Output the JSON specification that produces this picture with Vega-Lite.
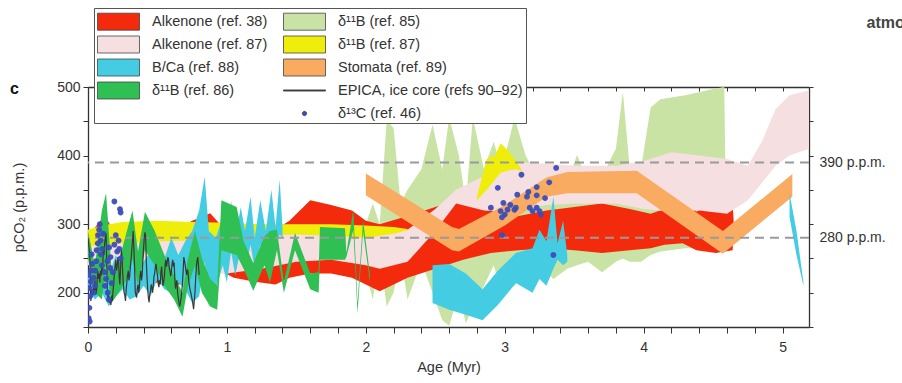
{
"$schema":"https://vega.github.io/schema/vega-lite/v6.json",
"width":721,"height":240,
"autosize":{"type":"none"},
"padding":{"left":88,"top":87,"right":93,"bottom":56},
"background":"white",
"title":{"text":"c","anchor":"start","frame":"group","fontSize":16,"fontWeight":"bold","color":"#111","dx":-78,"dy":102,"offset":0,"baseline":"alphabetic"},
"datasets":{
"bands":[
{"s":"δ¹¹B (ref. 85)","g":1,"x":2.0,"lo":230,"hi":300},{"s":"δ¹¹B (ref. 85)","g":1,"x":2.05,"lo":190,"hi":330},{"s":"δ¹¹B (ref. 85)","g":1,"x":2.1,"lo":255,"hi":300},{"s":"δ¹¹B (ref. 85)","g":1,"x":2.15,"lo":180,"hi":452},{"s":"δ¹¹B (ref. 85)","g":1,"x":2.2,"lo":200,"hi":440},{"s":"δ¹¹B (ref. 85)","g":1,"x":2.25,"lo":255,"hi":330},{"s":"δ¹¹B (ref. 85)","g":1,"x":2.3,"lo":190,"hi":350},{"s":"δ¹¹B (ref. 85)","g":1,"x":2.4,"lo":245,"hi":380},{"s":"δ¹¹B (ref. 85)","g":1,"x":2.48,"lo":200,"hi":445},{"s":"δ¹¹B (ref. 85)","g":1,"x":2.55,"lo":160,"hi":380},{"s":"δ¹¹B (ref. 85)","g":1,"x":2.6,"lo":152,"hi":455},{"s":"δ¹¹B (ref. 85)","g":1,"x":2.67,"lo":200,"hi":400},{"s":"δ¹¹B (ref. 85)","g":1,"x":2.72,"lo":155,"hi":330},{"s":"δ¹¹B (ref. 85)","g":1,"x":2.77,"lo":180,"hi":455},{"s":"δ¹¹B (ref. 85)","g":1,"x":2.85,"lo":210,"hi":380},{"s":"δ¹¹B (ref. 85)","g":1,"x":2.92,"lo":240,"hi":420},{"s":"δ¹¹B (ref. 85)","g":1,"x":2.98,"lo":200,"hi":380},{"s":"δ¹¹B (ref. 85)","g":1,"x":3.07,"lo":210,"hi":455},{"s":"δ¹¹B (ref. 85)","g":1,"x":3.15,"lo":230,"hi":400},{"s":"δ¹¹B (ref. 85)","g":1,"x":3.25,"lo":240,"hi":360},{"s":"δ¹¹B (ref. 85)","g":1,"x":3.35,"lo":220,"hi":340},{"s":"δ¹¹B (ref. 85)","g":1,"x":3.45,"lo":235,"hi":360},{"s":"δ¹¹B (ref. 85)","g":1,"x":3.52,"lo":240,"hi":401},{"s":"δ¹¹B (ref. 85)","g":1,"x":3.6,"lo":245,"hi":360},{"s":"δ¹¹B (ref. 85)","g":1,"x":3.7,"lo":230,"hi":370},{"s":"δ¹¹B (ref. 85)","g":1,"x":3.8,"lo":245,"hi":410},{"s":"δ¹¹B (ref. 85)","g":1,"x":3.85,"lo":250,"hi":493},{"s":"δ¹¹B (ref. 85)","g":1,"x":3.9,"lo":245,"hi":380},{"s":"δ¹¹B (ref. 85)","g":1,"x":3.98,"lo":245,"hi":380},{"s":"δ¹¹B (ref. 85)","g":1,"x":4.05,"lo":255,"hi":470},{"s":"δ¹¹B (ref. 85)","g":1,"x":4.12,"lo":260,"hi":482},{"s":"δ¹¹B (ref. 85)","g":1,"x":4.3,"lo":265,"hi":488},{"s":"δ¹¹B (ref. 85)","g":1,"x":4.5,"lo":265,"hi":497},{"s":"δ¹¹B (ref. 85)","g":1,"x":4.58,"lo":268,"hi":500},{"s":"δ¹¹B (ref. 85)","g":1,"x":4.59,"lo":300,"hi":350},{"s":"δ¹¹B (ref. 85)","g":1,"x":4.6,"lo":300,"hi":302},
{"s":"Alkenone (ref. 38)","g":1,"x":0,"lo":250,"hi":280},{"s":"Alkenone (ref. 38)","g":1,"x":0.05,"lo":245,"hi":295},{"s":"Alkenone (ref. 38)","g":1,"x":0.12,"lo":240,"hi":313},{"s":"Alkenone (ref. 38)","g":1,"x":0.2,"lo":225,"hi":285},{"s":"Alkenone (ref. 38)","g":1,"x":0.3,"lo":215,"hi":270},{"s":"Alkenone (ref. 38)","g":1,"x":0.4,"lo":210,"hi":275},{"s":"Alkenone (ref. 38)","g":1,"x":0.5,"lo":215,"hi":280},{"s":"Alkenone (ref. 38)","g":1,"x":0.6,"lo":210,"hi":290},{"s":"Alkenone (ref. 38)","g":1,"x":0.75,"lo":215,"hi":305},{"s":"Alkenone (ref. 38)","g":1,"x":0.88,"lo":225,"hi":316},{"s":"Alkenone (ref. 38)","g":1,"x":0.95,"lo":232,"hi":300},{"s":"Alkenone (ref. 38)","g":1,"x":1.05,"lo":222,"hi":290},{"s":"Alkenone (ref. 38)","g":1,"x":1.2,"lo":216,"hi":288},{"s":"Alkenone (ref. 38)","g":1,"x":1.35,"lo":212,"hi":292},{"s":"Alkenone (ref. 38)","g":1,"x":1.45,"lo":222,"hi":305},{"s":"Alkenone (ref. 38)","g":1,"x":1.6,"lo":228,"hi":335},{"s":"Alkenone (ref. 38)","g":1,"x":1.75,"lo":228,"hi":328},{"s":"Alkenone (ref. 38)","g":1,"x":1.9,"lo":222,"hi":320},{"s":"Alkenone (ref. 38)","g":1,"x":2.0,"lo":212,"hi":305},{"s":"Alkenone (ref. 38)","g":1,"x":2.1,"lo":202,"hi":300},{"s":"Alkenone (ref. 38)","g":1,"x":2.3,"lo":222,"hi":312},{"s":"Alkenone (ref. 38)","g":1,"x":2.5,"lo":235,"hi":325},{"s":"Alkenone (ref. 38)","g":1,"x":2.7,"lo":248,"hi":338},{"s":"Alkenone (ref. 38)","g":1,"x":2.9,"lo":258,"hi":330},{"s":"Alkenone (ref. 38)","g":1,"x":3.1,"lo":262,"hi":312},{"s":"Alkenone (ref. 38)","g":1,"x":3.3,"lo":265,"hi":320},{"s":"Alkenone (ref. 38)","g":1,"x":3.5,"lo":262,"hi":325},{"s":"Alkenone (ref. 38)","g":1,"x":3.7,"lo":258,"hi":330},{"s":"Alkenone (ref. 38)","g":1,"x":3.9,"lo":262,"hi":322},{"s":"Alkenone (ref. 38)","g":1,"x":4.05,"lo":265,"hi":315},{"s":"Alkenone (ref. 38)","g":1,"x":4.15,"lo":270,"hi":322},{"s":"Alkenone (ref. 38)","g":1,"x":4.28,"lo":272,"hi":345},{"s":"Alkenone (ref. 38)","g":1,"x":4.38,"lo":262,"hi":318},{"s":"Alkenone (ref. 38)","g":1,"x":4.52,"lo":258,"hi":336},{"s":"Alkenone (ref. 38)","g":1,"x":4.64,"lo":262,"hi":332},{"s":"Alkenone (ref. 38)","g":1,"x":4.65,"lo":294,"hi":296},
{"s":"Alkenone (ref. 87)","g":1,"x":0,"lo":240,"hi":280},{"s":"Alkenone (ref. 87)","g":1,"x":0.25,"lo":235,"hi":280},{"s":"Alkenone (ref. 87)","g":1,"x":0.5,"lo":228,"hi":282},{"s":"Alkenone (ref. 87)","g":1,"x":0.75,"lo":225,"hi":285},{"s":"Alkenone (ref. 87)","g":1,"x":1.0,"lo":228,"hi":285},{"s":"Alkenone (ref. 87)","g":1,"x":1.25,"lo":235,"hi":288},{"s":"Alkenone (ref. 87)","g":1,"x":1.5,"lo":245,"hi":290},{"s":"Alkenone (ref. 87)","g":1,"x":1.75,"lo":248,"hi":292},{"s":"Alkenone (ref. 87)","g":1,"x":2.0,"lo":240,"hi":290},{"s":"Alkenone (ref. 87)","g":1,"x":2.1,"lo":235,"hi":288},{"s":"Alkenone (ref. 87)","g":1,"x":2.3,"lo":245,"hi":292},{"s":"Alkenone (ref. 87)","g":1,"x":2.5,"lo":290,"hi":322},{"s":"Alkenone (ref. 87)","g":1,"x":2.65,"lo":330,"hi":350},{"s":"Alkenone (ref. 87)","g":1,"x":2.85,"lo":320,"hi":370},{"s":"Alkenone (ref. 87)","g":1,"x":3.0,"lo":318,"hi":385},{"s":"Alkenone (ref. 87)","g":1,"x":3.1,"lo":322,"hi":390},{"s":"Alkenone (ref. 87)","g":1,"x":3.3,"lo":328,"hi":388},{"s":"Alkenone (ref. 87)","g":1,"x":3.5,"lo":330,"hi":385},{"s":"Alkenone (ref. 87)","g":1,"x":3.8,"lo":330,"hi":385},{"s":"Alkenone (ref. 87)","g":1,"x":4.0,"lo":322,"hi":392},{"s":"Alkenone (ref. 87)","g":1,"x":4.2,"lo":318,"hi":405},{"s":"Alkenone (ref. 87)","g":1,"x":4.4,"lo":320,"hi":400},{"s":"Alkenone (ref. 87)","g":1,"x":4.6,"lo":315,"hi":395},{"s":"Alkenone (ref. 87)","g":1,"x":4.75,"lo":335,"hi":385},{"s":"Alkenone (ref. 87)","g":1,"x":4.85,"lo":360,"hi":420},{"s":"Alkenone (ref. 87)","g":1,"x":4.95,"lo":385,"hi":468},{"s":"Alkenone (ref. 87)","g":1,"x":5.05,"lo":400,"hi":488},{"s":"Alkenone (ref. 87)","g":1,"x":5.19,"lo":410,"hi":495},
{"s":"δ¹¹B (ref. 87)","g":1,"x":0,"lo":268,"hi":292},{"s":"δ¹¹B (ref. 87)","g":1,"x":0.1,"lo":270,"hi":298},{"s":"δ¹¹B (ref. 87)","g":1,"x":0.25,"lo":272,"hi":303},{"s":"δ¹¹B (ref. 87)","g":1,"x":0.5,"lo":275,"hi":305},{"s":"δ¹¹B (ref. 87)","g":1,"x":0.75,"lo":276,"hi":303},{"s":"δ¹¹B (ref. 87)","g":1,"x":1.0,"lo":280,"hi":302},{"s":"δ¹¹B (ref. 87)","g":1,"x":1.25,"lo":283,"hi":300},{"s":"δ¹¹B (ref. 87)","g":1,"x":1.5,"lo":285,"hi":300},{"s":"δ¹¹B (ref. 87)","g":1,"x":1.75,"lo":283,"hi":300},{"s":"δ¹¹B (ref. 87)","g":1,"x":2.0,"lo":280,"hi":298},{"s":"δ¹¹B (ref. 87)","g":1,"x":2.2,"lo":286,"hi":296},{"s":"δ¹¹B (ref. 87)","g":1,"x":2.3,"lo":291,"hi":293},
{"s":"δ¹¹B (ref. 87)","g":2,"x":2.8,"lo":335,"hi":340},{"s":"δ¹¹B (ref. 87)","g":2,"x":2.87,"lo":350,"hi":395},{"s":"δ¹¹B (ref. 87)","g":2,"x":2.93,"lo":365,"hi":400},{"s":"δ¹¹B (ref. 87)","g":2,"x":2.97,"lo":375,"hi":418},{"s":"δ¹¹B (ref. 87)","g":2,"x":3.02,"lo":378,"hi":408},{"s":"δ¹¹B (ref. 87)","g":2,"x":3.08,"lo":380,"hi":392},{"s":"δ¹¹B (ref. 87)","g":2,"x":3.12,"lo":378,"hi":380},
{"s":"Stomata (ref. 89)","g":1,"x":2.0,"lo":342,"hi":374},{"s":"Stomata (ref. 89)","g":1,"x":2.62,"lo":262,"hi":296},{"s":"Stomata (ref. 89)","g":1,"x":2.67,"lo":260,"hi":293},{"s":"Stomata (ref. 89)","g":1,"x":3.0,"lo":298,"hi":328},{"s":"Stomata (ref. 89)","g":1,"x":3.3,"lo":340,"hi":368},{"s":"Stomata (ref. 89)","g":1,"x":3.45,"lo":345,"hi":376},{"s":"Stomata (ref. 89)","g":1,"x":3.95,"lo":345,"hi":378},{"s":"Stomata (ref. 89)","g":1,"x":4.57,"lo":257,"hi":290},{"s":"Stomata (ref. 89)","g":1,"x":5.07,"lo":340,"hi":373},
{"s":"B/Ca (ref. 88)","g":1,"x":0.0,"lo":205,"hi":230},{"s":"B/Ca (ref. 88)","g":1,"x":0.05,"lo":190,"hi":215},{"s":"B/Ca (ref. 88)","g":1,"x":0.1,"lo":200,"hi":245},{"s":"B/Ca (ref. 88)","g":1,"x":0.15,"lo":180,"hi":225},{"s":"B/Ca (ref. 88)","g":1,"x":0.2,"lo":195,"hi":255},{"s":"B/Ca (ref. 88)","g":1,"x":0.25,"lo":205,"hi":235},{"s":"B/Ca (ref. 88)","g":1,"x":0.3,"lo":190,"hi":250},{"s":"B/Ca (ref. 88)","g":1,"x":0.35,"lo":195,"hi":265},{"s":"B/Ca (ref. 88)","g":1,"x":0.4,"lo":210,"hi":245},{"s":"B/Ca (ref. 88)","g":1,"x":0.45,"lo":195,"hi":260},{"s":"B/Ca (ref. 88)","g":1,"x":0.5,"lo":220,"hi":275},{"s":"B/Ca (ref. 88)","g":1,"x":0.55,"lo":205,"hi":250},{"s":"B/Ca (ref. 88)","g":1,"x":0.6,"lo":200,"hi":280},{"s":"B/Ca (ref. 88)","g":1,"x":0.65,"lo":215,"hi":255},{"s":"B/Ca (ref. 88)","g":1,"x":0.7,"lo":205,"hi":275},{"s":"B/Ca (ref. 88)","g":1,"x":0.75,"lo":185,"hi":290},{"s":"B/Ca (ref. 88)","g":1,"x":0.8,"lo":195,"hi":320},{"s":"B/Ca (ref. 88)","g":1,"x":0.84,"lo":245,"hi":369},{"s":"B/Ca (ref. 88)","g":1,"x":0.87,"lo":180,"hi":290},{"s":"B/Ca (ref. 88)","g":1,"x":0.92,"lo":205,"hi":280},{"s":"B/Ca (ref. 88)","g":1,"x":0.97,"lo":240,"hi":310},{"s":"B/Ca (ref. 88)","g":1,"x":1.0,"lo":215,"hi":270},{"s":"B/Ca (ref. 88)","g":1,"x":1.03,"lo":260,"hi":335},{"s":"B/Ca (ref. 88)","g":1,"x":1.06,"lo":225,"hi":280},{"s":"B/Ca (ref. 88)","g":1,"x":1.1,"lo":265,"hi":325},{"s":"B/Ca (ref. 88)","g":1,"x":1.13,"lo":230,"hi":290},{"s":"B/Ca (ref. 88)","g":1,"x":1.17,"lo":270,"hi":340},{"s":"B/Ca (ref. 88)","g":1,"x":1.2,"lo":235,"hi":280},{"s":"B/Ca (ref. 88)","g":1,"x":1.24,"lo":270,"hi":335},{"s":"B/Ca (ref. 88)","g":1,"x":1.28,"lo":240,"hi":290},{"s":"B/Ca (ref. 88)","g":1,"x":1.32,"lo":265,"hi":350},{"s":"B/Ca (ref. 88)","g":1,"x":1.35,"lo":265,"hi":295},{"s":"B/Ca (ref. 88)","g":1,"x":1.38,"lo":285,"hi":365},{"s":"B/Ca (ref. 88)","g":1,"x":1.4,"lo":280,"hi":295},
{"s":"B/Ca (ref. 88)","g":2,"x":2.48,"lo":185,"hi":240},{"s":"B/Ca (ref. 88)","g":2,"x":2.6,"lo":175,"hi":242},{"s":"B/Ca (ref. 88)","g":2,"x":2.72,"lo":168,"hi":228},{"s":"B/Ca (ref. 88)","g":2,"x":2.84,"lo":160,"hi":205},{"s":"B/Ca (ref. 88)","g":2,"x":2.95,"lo":182,"hi":232},{"s":"B/Ca (ref. 88)","g":2,"x":3.08,"lo":214,"hi":258},{"s":"B/Ca (ref. 88)","g":2,"x":3.2,"lo":200,"hi":265},{"s":"B/Ca (ref. 88)","g":2,"x":3.25,"lo":220,"hi":292},{"s":"B/Ca (ref. 88)","g":2,"x":3.3,"lo":210,"hi":275},{"s":"B/Ca (ref. 88)","g":2,"x":3.35,"lo":235,"hi":340},{"s":"B/Ca (ref. 88)","g":2,"x":3.38,"lo":248,"hi":272},{"s":"B/Ca (ref. 88)","g":2,"x":3.42,"lo":240,"hi":305},{"s":"B/Ca (ref. 88)","g":2,"x":3.45,"lo":245,"hi":255},
{"s":"B/Ca (ref. 88)","g":3,"x":5.05,"lo":310,"hi":345},{"s":"B/Ca (ref. 88)","g":3,"x":5.1,"lo":255,"hi":290},{"s":"B/Ca (ref. 88)","g":3,"x":5.15,"lo":210,"hi":215},
{"s":"δ¹¹B (ref. 86)","g":1,"x":0.0,"lo":250,"hi":290},{"s":"δ¹¹B (ref. 86)","g":1,"x":0.05,"lo":200,"hi":240},{"s":"δ¹¹B (ref. 86)","g":1,"x":0.1,"lo":190,"hi":320},{"s":"δ¹¹B (ref. 86)","g":1,"x":0.13,"lo":240,"hi":345},{"s":"δ¹¹B (ref. 86)","g":1,"x":0.17,"lo":185,"hi":230},{"s":"δ¹¹B (ref. 86)","g":1,"x":0.22,"lo":200,"hi":245},{"s":"δ¹¹B (ref. 86)","g":1,"x":0.28,"lo":220,"hi":290},{"s":"δ¹¹B (ref. 86)","g":1,"x":0.32,"lo":250,"hi":320},{"s":"δ¹¹B (ref. 86)","g":1,"x":0.36,"lo":210,"hi":260},{"s":"δ¹¹B (ref. 86)","g":1,"x":0.41,"lo":262,"hi":318},{"s":"δ¹¹B (ref. 86)","g":1,"x":0.48,"lo":240,"hi":290},{"s":"δ¹¹B (ref. 86)","g":1,"x":0.55,"lo":210,"hi":255},{"s":"δ¹¹B (ref. 86)","g":1,"x":0.62,"lo":190,"hi":225},{"s":"δ¹¹B (ref. 86)","g":1,"x":0.68,"lo":165,"hi":200},{"s":"δ¹¹B (ref. 86)","g":1,"x":0.72,"lo":210,"hi":250},{"s":"δ¹¹B (ref. 86)","g":1,"x":0.77,"lo":240,"hi":290},{"s":"δ¹¹B (ref. 86)","g":1,"x":0.82,"lo":200,"hi":250},{"s":"δ¹¹B (ref. 86)","g":1,"x":0.88,"lo":180,"hi":220},{"s":"δ¹¹B (ref. 86)","g":1,"x":0.93,"lo":175,"hi":210},{"s":"δ¹¹B (ref. 86)","g":1,"x":0.96,"lo":262,"hi":335},{"s":"δ¹¹B (ref. 86)","g":1,"x":1.07,"lo":255,"hi":325},{"s":"δ¹¹B (ref. 86)","g":1,"x":1.12,"lo":235,"hi":275},{"s":"δ¹¹B (ref. 86)","g":1,"x":1.19,"lo":203,"hi":243},{"s":"δ¹¹B (ref. 86)","g":1,"x":1.27,"lo":240,"hi":282},{"s":"δ¹¹B (ref. 86)","g":1,"x":1.31,"lo":215,"hi":290},{"s":"δ¹¹B (ref. 86)","g":1,"x":1.36,"lo":262,"hi":292},{"s":"δ¹¹B (ref. 86)","g":1,"x":1.41,"lo":200,"hi":216},{"s":"δ¹¹B (ref. 86)","g":1,"x":1.49,"lo":262,"hi":287},{"s":"δ¹¹B (ref. 86)","g":1,"x":1.6,"lo":205,"hi":228},{"s":"δ¹¹B (ref. 86)","g":1,"x":1.66,"lo":200,"hi":230},{"s":"δ¹¹B (ref. 86)","g":1,"x":1.67,"lo":248,"hi":296},{"s":"δ¹¹B (ref. 86)","g":1,"x":1.85,"lo":248,"hi":294},{"s":"δ¹¹B (ref. 86)","g":1,"x":1.86,"lo":252,"hi":258},{"s":"δ¹¹B (ref. 86)","g":1,"x":1.91,"lo":292,"hi":321},{"s":"δ¹¹B (ref. 86)","g":1,"x":1.94,"lo":170,"hi":185},{"s":"δ¹¹B (ref. 86)","g":1,"x":1.98,"lo":290,"hi":306},{"s":"δ¹¹B (ref. 86)","g":1,"x":2.03,"lo":215,"hi":225}
],
"epica":[
{"x":0.000,"v":280},{"x":0.005,"v":270},{"x":0.010,"v":262},{"x":0.015,"v":245},{"x":0.020,"v":188},{"x":0.025,"v":195},{"x":0.030,"v":205},{"x":0.035,"v":198},{"x":0.040,"v":210},{"x":0.045,"v":200},{"x":0.050,"v":218},{"x":0.055,"v":205},{"x":0.060,"v":198},{"x":0.065,"v":215},{"x":0.070,"v":232},{"x":0.075,"v":220},{"x":0.080,"v":228},{"x":0.085,"v":215},{"x":0.090,"v":232},{"x":0.095,"v":225},{"x":0.100,"v":238},{"x":0.105,"v":230},{"x":0.110,"v":262},{"x":0.115,"v":255},{"x":0.120,"v":272},{"x":0.125,"v":280},{"x":0.130,"v":287},{"x":0.135,"v":240},{"x":0.140,"v":198},{"x":0.145,"v":192},{"x":0.150,"v":196},{"x":0.155,"v":185},{"x":0.160,"v":190},{"x":0.165,"v":182},{"x":0.170,"v":196},{"x":0.175,"v":188},{"x":0.180,"v":202},{"x":0.185,"v":214},{"x":0.190,"v":228},{"x":0.195,"v":240},{"x":0.200,"v":248},{"x":0.205,"v":232},{"x":0.210,"v":238},{"x":0.215,"v":252},{"x":0.220,"v":244},{"x":0.225,"v":222},{"x":0.230,"v":212},{"x":0.235,"v":240},{"x":0.240,"v":262},{"x":0.245,"v":252},{"x":0.250,"v":228},{"x":0.255,"v":212},{"x":0.260,"v":200},{"x":0.265,"v":196},{"x":0.270,"v":188},{"x":0.275,"v":205},{"x":0.280,"v":216},{"x":0.285,"v":226},{"x":0.290,"v":232},{"x":0.295,"v":218},{"x":0.300,"v":224},{"x":0.305,"v":238},{"x":0.310,"v":248},{"x":0.315,"v":262},{"x":0.320,"v":275},{"x":0.325,"v":290},{"x":0.330,"v":265},{"x":0.335,"v":240},{"x":0.340,"v":202},{"x":0.345,"v":196},{"x":0.350,"v":193},{"x":0.355,"v":206},{"x":0.360,"v":212},{"x":0.365,"v":200},{"x":0.370,"v":208},{"x":0.375,"v":225},{"x":0.380,"v":232},{"x":0.385,"v":218},{"x":0.390,"v":226},{"x":0.395,"v":248},{"x":0.400,"v":265},{"x":0.405,"v":280},{"x":0.410,"v":288},{"x":0.415,"v":282},{"x":0.420,"v":245},{"x":0.425,"v":222},{"x":0.430,"v":204},{"x":0.435,"v":192},{"x":0.440,"v":186},{"x":0.445,"v":198},{"x":0.450,"v":202},{"x":0.455,"v":212},{"x":0.460,"v":208},{"x":0.465,"v":200},{"x":0.470,"v":210},{"x":0.475,"v":224},{"x":0.480,"v":228},{"x":0.485,"v":238},{"x":0.490,"v":242},{"x":0.495,"v":232},{"x":0.500,"v":226},{"x":0.505,"v":214},{"x":0.510,"v":208},{"x":0.515,"v":218},{"x":0.520,"v":212},{"x":0.525,"v":230},{"x":0.530,"v":238},{"x":0.535,"v":222},{"x":0.540,"v":210},{"x":0.545,"v":216},{"x":0.550,"v":224},{"x":0.555,"v":240},{"x":0.560,"v":248},{"x":0.565,"v":238},{"x":0.570,"v":244},{"x":0.575,"v":252},{"x":0.580,"v":248},{"x":0.585,"v":236},{"x":0.590,"v":232},{"x":0.595,"v":224},{"x":0.600,"v":230},{"x":0.605,"v":242},{"x":0.610,"v":248},{"x":0.615,"v":238},{"x":0.620,"v":244},{"x":0.625,"v":220},{"x":0.630,"v":206},{"x":0.635,"v":214},{"x":0.640,"v":218},{"x":0.645,"v":200},{"x":0.650,"v":192},{"x":0.655,"v":185},{"x":0.660,"v":180},{"x":0.665,"v":186},{"x":0.670,"v":192},{"x":0.675,"v":202},{"x":0.680,"v":214},{"x":0.685,"v":232},{"x":0.690,"v":252},{"x":0.695,"v":246},{"x":0.700,"v":240},{"x":0.705,"v":232},{"x":0.710,"v":226},{"x":0.715,"v":234},{"x":0.720,"v":230},{"x":0.725,"v":218},{"x":0.730,"v":210},{"x":0.735,"v":204},{"x":0.740,"v":200},{"x":0.745,"v":195},{"x":0.750,"v":190},{"x":0.755,"v":184},{"x":0.760,"v":176},{"x":0.765,"v":188},{"x":0.770,"v":200},{"x":0.775,"v":220},{"x":0.780,"v":238},{"x":0.785,"v":246},{"x":0.790,"v":252},{"x":0.795,"v":240},{"x":0.800,"v":226}
],
"dots":[
{"s":"δ¹³C (ref. 46)","x":0.005,"v":163},{"s":"δ¹³C (ref. 46)","x":0.012,"v":158},{"s":"δ¹³C (ref. 46)","x":0.01,"v":178},{"s":"δ¹³C (ref. 46)","x":0.015,"v":195},{"s":"δ¹³C (ref. 46)","x":0.008,"v":207},{"s":"δ¹³C (ref. 46)","x":0.02,"v":216},{"s":"δ¹³C (ref. 46)","x":0.005,"v":226},{"s":"δ¹³C (ref. 46)","x":0.022,"v":232},{"s":"δ¹³C (ref. 46)","x":0.03,"v":242},{"s":"δ¹³C (ref. 46)","x":0.026,"v":256},{"s":"δ¹³C (ref. 46)","x":0.04,"v":222},{"s":"δ¹³C (ref. 46)","x":0.042,"v":200},{"s":"δ¹³C (ref. 46)","x":0.05,"v":210},{"s":"δ¹³C (ref. 46)","x":0.052,"v":232},{"s":"δ¹³C (ref. 46)","x":0.06,"v":246},{"s":"δ¹³C (ref. 46)","x":0.062,"v":262},{"s":"δ¹³C (ref. 46)","x":0.07,"v":272},{"s":"δ¹³C (ref. 46)","x":0.072,"v":284},{"s":"δ¹³C (ref. 46)","x":0.08,"v":292},{"s":"δ¹³C (ref. 46)","x":0.085,"v":300},{"s":"δ¹³C (ref. 46)","x":0.09,"v":276},{"s":"δ¹³C (ref. 46)","x":0.092,"v":256},{"s":"δ¹³C (ref. 46)","x":0.1,"v":240},{"s":"δ¹³C (ref. 46)","x":0.102,"v":264},{"s":"δ¹³C (ref. 46)","x":0.11,"v":286},{"s":"δ¹³C (ref. 46)","x":0.12,"v":230},{"s":"δ¹³C (ref. 46)","x":0.122,"v":210},{"s":"δ¹³C (ref. 46)","x":0.13,"v":220},{"s":"δ¹³C (ref. 46)","x":0.14,"v":246},{"s":"δ¹³C (ref. 46)","x":0.142,"v":200},{"s":"δ¹³C (ref. 46)","x":0.15,"v":190},{"s":"δ¹³C (ref. 46)","x":0.152,"v":266},{"s":"δ¹³C (ref. 46)","x":0.16,"v":236},{"s":"δ¹³C (ref. 46)","x":0.162,"v":252},{"s":"δ¹³C (ref. 46)","x":0.17,"v":214},{"s":"δ¹³C (ref. 46)","x":0.18,"v":230},{"s":"δ¹³C (ref. 46)","x":0.19,"v":270},{"s":"δ¹³C (ref. 46)","x":0.2,"v":284},{"s":"δ¹³C (ref. 46)","x":0.21,"v":260},{"s":"δ¹³C (ref. 46)","x":0.22,"v":276},{"s":"δ¹³C (ref. 46)","x":0.19,"v":333},{"s":"δ¹³C (ref. 46)","x":0.23,"v":322},{"s":"δ¹³C (ref. 46)","x":0.235,"v":317},{"s":"δ¹³C (ref. 46)","x":0.225,"v":264},{"s":"δ¹³C (ref. 46)","x":0.235,"v":250},
{"s":"δ¹³C (ref. 46)","x":3.12,"v":372},{"s":"δ¹³C (ref. 46)","x":2.95,"v":353},{"s":"δ¹³C (ref. 46)","x":3.37,"v":382},{"s":"δ¹³C (ref. 46)","x":3.32,"v":361},{"s":"δ¹³C (ref. 46)","x":3.23,"v":354},{"s":"δ¹³C (ref. 46)","x":3.23,"v":342},{"s":"δ¹³C (ref. 46)","x":3.17,"v":347},{"s":"δ¹³C (ref. 46)","x":3.16,"v":340},{"s":"δ¹³C (ref. 46)","x":3.09,"v":343},{"s":"δ¹³C (ref. 46)","x":3.29,"v":338},{"s":"δ¹³C (ref. 46)","x":2.99,"v":331},{"s":"δ¹³C (ref. 46)","x":2.9,"v":324},{"s":"δ¹³C (ref. 46)","x":2.97,"v":319},{"s":"δ¹³C (ref. 46)","x":3.0,"v":314},{"s":"δ¹³C (ref. 46)","x":2.98,"v":310},{"s":"δ¹³C (ref. 46)","x":3.02,"v":321},{"s":"δ¹³C (ref. 46)","x":3.07,"v":321},{"s":"δ¹³C (ref. 46)","x":3.08,"v":324},{"s":"δ¹³C (ref. 46)","x":3.18,"v":324},{"s":"δ¹³C (ref. 46)","x":3.2,"v":319},{"s":"δ¹³C (ref. 46)","x":3.23,"v":324},{"s":"δ¹³C (ref. 46)","x":3.25,"v":319},{"s":"δ¹³C (ref. 46)","x":3.26,"v":314},{"s":"δ¹³C (ref. 46)","x":2.98,"v":284},{"s":"δ¹³C (ref. 46)","x":3.35,"v":255},{"s":"δ¹³C (ref. 46)","x":3.04,"v":328}
],
"refs":[{"v":390},{"v":280}]
},
"layer":[
{"data":{"name":"bands"},"transform":[{"filter":{"field":"s","equal":"δ¹¹B (ref. 85)"}}],
 "mark":{"type":"area","opacity":1,"clip":true},
 "encoding":{
  "x":{"field":"x","type":"quantitative","scale":{"domain":[0,5.19],"nice":false,"zero":false},
   "axis":{"orient":"bottom","values":[0,0.2,0.4,0.6,0.8,1,1.2,1.4,1.6,1.8,2,2.2,2.4,2.6,2.8,3,3.2,3.4,3.6,3.8,4,4.2,4.4,4.6,4.8,5],"labelExpr":"datum.value % 1 === 0 ? format(datum.value, 'd') : ''","title":"Age (Myr)","tickSize":6,"labelPadding":7,"titlePadding":6,"labelFlush":false,"labelOverlap":false}},
  "y":{"field":"lo","type":"quantitative","scale":{"domain":[150,500],"nice":false,"zero":false},
   "axis":{"orient":"left","values":[150,200,250,300,350,400,450,500],"labelExpr":"datum.value % 100 === 0 ? format(datum.value, 'd') : ''","title":"pCO₂ (p.p.m.)","tickSize":5,"labelPadding":3,"titleX":-62,"titleY":120,"titleAngle":270,"titleAlign":"center","titleBaseline":"bottom","labelFlush":false,"labelOverlap":false}},
  "y2":{"field":"hi"},
  "detail":{"field":"g","type":"nominal"},
  "color":{"field":"s","type":"nominal",
   "scale":{"domain":["Alkenone (ref. 38)","Alkenone (ref. 87)","B/Ca (ref. 88)","δ¹¹B (ref. 86)"," ","δ¹¹B (ref. 85)","δ¹¹B (ref. 87)","Stomata (ref. 89)","EPICA, ice core (refs 90–92)","δ¹³C (ref. 46)"],
            "range":["#f42a0c","#f5dfe1","#44cde2","#2fbf52","#ffffff","#c8e3a4","#eeee0a","#f9ab62","#3d3535","#3b4cb8"]},
   "legend":{"title":null}}
 }},
{"data":{"name":"bands"},"transform":[{"filter":{"field":"s","equal":"Alkenone (ref. 38)"}}],
 "mark":{"type":"area","opacity":1,"clip":true},
 "encoding":{
  "x":{"field":"x","type":"quantitative","scale":{"domain":[0,5.19],"nice":false,"zero":false},
   "axis":{"orient":"top","values":[0,0.2,0.4,0.6,0.8,1,1.2,1.4,1.6,1.8,2,2.2,2.4,2.6,2.8,3,3.2,3.4,3.6,3.8,4,4.2,4.4,4.6,4.8,5],"labels":false,"tickSize":-4,"title":null}},
  "y":{"field":"lo","type":"quantitative","scale":{"domain":[150,500],"nice":false,"zero":false},
   "axis":{"orient":"right","values":[150,200,250,280,300,350,390,400,450,500],"labelExpr":"datum.value === 280 || datum.value === 390 ? format(datum.value, 'd') + ' p.p.m.' : ''","tickSize":4,"tickOpacity":{"condition":{"test":"datum.value === 280 || datum.value === 390","value":0},"value":1},"labelPadding":6,"labelOverlap":false,"labelFlush":false,
    "title":"atmospheric CO₂","titleAngle":0,"titleX":57,"titleY":-65,"titleAlign":"left","titleBaseline":"middle","titleFontWeight":"bold","titleFontSize":16,"titleColor":"#444"}},
  "y2":{"field":"hi"},
  "detail":{"field":"g","type":"nominal"},
  "color":{"field":"s","type":"nominal","legend":{"title":null}}
 }},
{"data":{"name":"bands"},"transform":[{"filter":{"field":"s","equal":"Alkenone (ref. 87)"}}],
 "mark":{"type":"area","opacity":1,"clip":true},
 "encoding":{
  "x":{"field":"x","type":"quantitative","scale":{"domain":[0,5.19],"nice":false,"zero":false},"axis":null},
  "y":{"field":"lo","type":"quantitative","scale":{"domain":[150,500],"nice":false,"zero":false},"axis":null},
  "y2":{"field":"hi"},"detail":{"field":"g","type":"nominal"},"color":{"field":"s","type":"nominal","legend":{"title":null}}}},
{"data":{"name":"bands"},"transform":[{"filter":{"field":"s","equal":"δ¹¹B (ref. 87)"}}],
 "mark":{"type":"area","opacity":1,"clip":true},
 "encoding":{
  "x":{"field":"x","type":"quantitative","scale":{"domain":[0,5.19],"nice":false,"zero":false},"axis":null},
  "y":{"field":"lo","type":"quantitative","scale":{"domain":[150,500],"nice":false,"zero":false},"axis":null},
  "y2":{"field":"hi"},"detail":{"field":"g","type":"nominal"},"color":{"field":"s","type":"nominal","legend":{"title":null}}}},
{"data":{"name":"bands"},"transform":[{"filter":{"field":"s","equal":"Stomata (ref. 89)"}}],
 "mark":{"type":"area","opacity":1,"clip":true},
 "encoding":{
  "x":{"field":"x","type":"quantitative","scale":{"domain":[0,5.19],"nice":false,"zero":false},"axis":null},
  "y":{"field":"lo","type":"quantitative","scale":{"domain":[150,500],"nice":false,"zero":false},"axis":null},
  "y2":{"field":"hi"},"detail":{"field":"g","type":"nominal"},"color":{"field":"s","type":"nominal","legend":{"title":null}}}},
{"data":{"name":"bands"},"transform":[{"filter":{"field":"s","equal":"B/Ca (ref. 88)"}}],
 "mark":{"type":"area","opacity":1,"clip":true},
 "encoding":{
  "x":{"field":"x","type":"quantitative","scale":{"domain":[0,5.19],"nice":false,"zero":false},"axis":null},
  "y":{"field":"lo","type":"quantitative","scale":{"domain":[150,500],"nice":false,"zero":false},"axis":null},
  "y2":{"field":"hi"},"detail":{"field":"g","type":"nominal"},"color":{"field":"s","type":"nominal","legend":{"title":null}}}},
{"data":{"name":"bands"},"transform":[{"filter":{"field":"s","equal":"δ¹¹B (ref. 86)"}}],
 "mark":{"type":"area","opacity":1,"clip":true},
 "encoding":{
  "x":{"field":"x","type":"quantitative","scale":{"domain":[0,5.19],"nice":false,"zero":false},"axis":null},
  "y":{"field":"lo","type":"quantitative","scale":{"domain":[150,500],"nice":false,"zero":false},"axis":null},
  "y2":{"field":"hi"},"detail":{"field":"g","type":"nominal"},"color":{"field":"s","type":"nominal","legend":{"title":null}}}},
{"data":{"name":"refs"},
 "mark":{"type":"rule","color":"#9a9a9a","strokeDash":[9,6],"strokeWidth":2},
 "encoding":{"y":{"field":"v","type":"quantitative","scale":{"domain":[150,500],"nice":false,"zero":false},"axis":null}}},
{"data":{"name":"epica"},
 "mark":{"type":"line","color":"#3d3535","strokeWidth":1.2,"clip":true},
 "encoding":{
  "x":{"field":"x","type":"quantitative","scale":{"domain":[0,5.19],"nice":false,"zero":false},"axis":null},
  "y":{"field":"v","type":"quantitative","scale":{"domain":[150,500],"nice":false,"zero":false},"axis":null}}},
{"data":{"name":"dots"},
 "mark":{"type":"point","filled":true,"size":700,"opacity":0.95,"clip":true},
 "encoding":{
  "x":{"field":"x","type":"quantitative","scale":{"domain":[0,5.19],"nice":false,"zero":false},"axis":null},
  "y":{"field":"v","type":"quantitative","scale":{"domain":[150,500],"nice":false,"zero":false},"axis":null},
  "color":{"field":"s","type":"nominal","legend":{"title":null}},
  "shape":{"field":"s","type":"nominal",
   "scale":{"domain":["Alkenone (ref. 38)","Alkenone (ref. 87)","B/Ca (ref. 88)","δ¹¹B (ref. 86)"," ","δ¹¹B (ref. 85)","δ¹¹B (ref. 87)","Stomata (ref. 89)","EPICA, ice core (refs 90–92)","δ¹³C (ref. 46)"],
            "range":["M-2.1,-0.85H2.1V0.85H-2.1Z","M-2.1,-0.85H2.1V0.85H-2.1Z","M-2.1,-0.85H2.1V0.85H-2.1Z","M-2.1,-0.85H2.1V0.85H-2.1Z","M0,0","M-2.1,-0.85H2.1V0.85H-2.1Z","M-2.1,-0.85H2.1V0.85H-2.1Z","M-2.1,-0.85H2.1V0.85H-2.1Z","M-2.1,-0.06H2.1V0.06H-2.1Z","M-0.22,0A0.22,0.22,0,1,0,0.22,0A0.22,0.22,0,1,0,-0.22,0Z"]},
   "legend":{"title":null}}}}
],
"resolve":{"axis":{"x":"independent","y":"independent"}},
"config":{
 "font":"Liberation Sans",
 "view":{"stroke":null},
 "legend":{"orient":"none","legendX":6,"legendY":-79,"columns":2,"symbolSize":400,"symbolOffset":11,"labelOffset":23,"columnPadding":13,"rowPadding":2,"padding":3,"strokeColor":"#555","fillColor":"white","labelFontSize":14.5,"labelFont":"Liberation Sans","labelColor":"#333","labelLimit":260,"symbolStrokeColor":"#444","symbolStrokeWidth":0.8},
 "axis":{"grid":false,"domainColor":"#333","domainWidth":1.3,"tickColor":"#333","tickWidth":1,"labelColor":"#333","titleColor":"#333","labelFontSize":14,"titleFontSize":14.5,"titleFontWeight":"normal","labelFont":"Liberation Sans","titleFont":"Liberation Sans"}
}
}
